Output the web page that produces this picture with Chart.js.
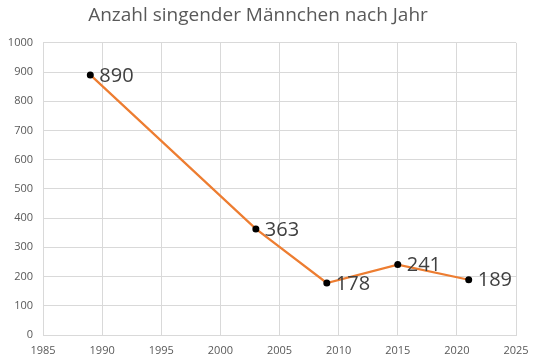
<!DOCTYPE html>
<html>
<head>
<meta charset="utf-8">
<script src="https://cdn.jsdelivr.net/npm/chart.js@4"></script>
<style>
html,body{margin:0;padding:0;background:#fff;}
#wrap{width:540px;height:360px;position:relative;}
</style>
</head>
<body>
<div id="wrap"><canvas id="c" width="540" height="360"></canvas></div>
<script>
const title = "Anzahl singender Männchen nach Jahr";
const years = [1989, 2003, 2009, 2015, 2021];
const males = [890, 363, 178, 241, 189];
const xTicks = [1985, 1990, 1995, 2000, 2005, 2010, 2015, 2020, 2025];
const yTicks = [0, 100, 200, 300, 400, 500, 600, 700, 800, 900, 1000];

const FONT = "'Open Sans', sans-serif";

const valueLabels = {
  id: 'valueLabels',
  afterDatasetsDraw(chart) {
    const ctx = chart.ctx;
    const meta = chart.getDatasetMeta(0);
    ctx.save();
    ctx.font = "20px " + FONT;
    ctx.fillStyle = "#404040";
    ctx.textAlign = "left";
    ctx.textBaseline = "middle";
    meta.data.forEach((pt, i) => {
      ctx.fillText(String(males[i]), pt.x + 9, pt.y + 1);
    });
    ctx.restore();
  }
};

new Chart(document.getElementById('c'), {
  type: 'scatter',
  data: {
    datasets: [{
      data: years.map((y, i) => ({x: y, y: males[i]})),
      showLine: true,
      borderColor: '#ED7D31',
      borderWidth: 2.25,
      pointBackgroundColor: '#000',
      pointBorderColor: '#000',
      pointRadius: 3.5,
      pointBorderWidth: 0,
      tension: 0
    }]
  },
  options: {
    responsive: false,
    animation: false,
    layout: {padding: {left: 0, right: 24, top: 0, bottom: 0}},
    plugins: {
      legend: {display: false},
      tooltip: {enabled: false},
      title: {
        display: true,
        text: title,
        color: '#595959',
        font: {family: FONT, size: 19, weight: 'normal'},
        padding: {top: 4, bottom: 16}
      }
    },
    scales: {
      x: {
        type: 'linear',
        min: xTicks[0],
        max: xTicks[xTicks.length - 1],
        afterBuildTicks(axis) { axis.ticks = xTicks.map(v => ({value: v})); },
        afterFit(axis) { axis.height = 25; },
        grid: {color: '#d9d9d9', drawTicks: false, lineWidth: 1},
        border: {color: '#d9d9d9'},
        ticks: {
          color: '#595959',
          font: {family: FONT, size: 11},
          padding: 9,
          maxRotation: 0,
          callback: v => String(v)
        }
      },
      y: {
        type: 'linear',
        min: yTicks[0],
        max: yTicks[yTicks.length - 1],
        afterBuildTicks(axis) { axis.ticks = yTicks.map(v => ({value: v})); },
        afterFit(axis) { axis.width = 43; },
        grid: {color: '#d9d9d9', drawTicks: false, lineWidth: 1},
        border: {color: '#d9d9d9'},
        ticks: {
          color: '#595959',
          font: {family: FONT, size: 11},
          padding: 10,
          callback: v => String(v)
        }
      }
    }
  },
  plugins: [valueLabels]
});
</script>
</body>
</html>
